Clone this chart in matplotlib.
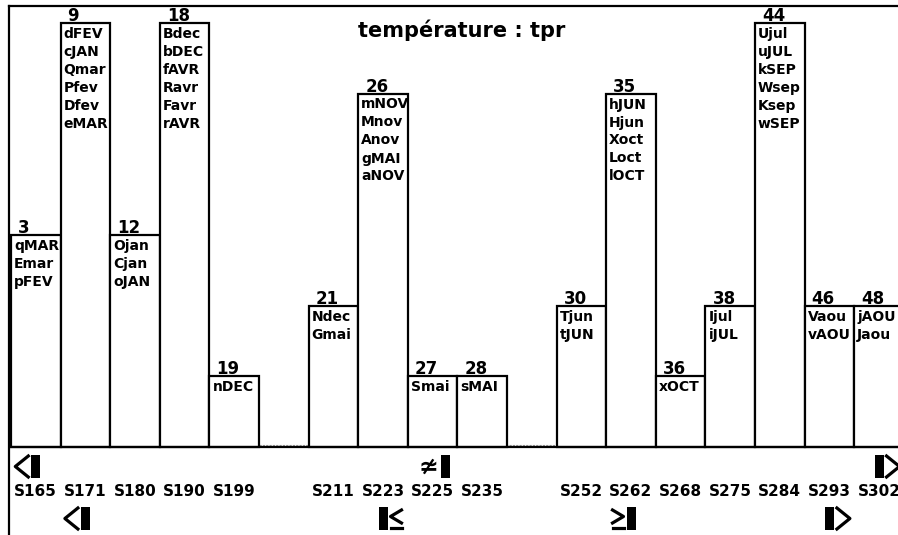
import matplotlib
matplotlib.use("Agg")
import matplotlib.pyplot as plt
from matplotlib.lines import Line2D
from matplotlib.patches import Rectangle
from matplotlib.transforms import IdentityTransform

# ---------------- data ----------------
bin_values = [3, 9, 12, 18, 19, 21, 26, 27, 28, 30, 35, 36, 38, 44, 46, 48]
bin_slots = [0, 1, 2, 3, 4, 6, 7, 8, 9, 11, 12, 13, 14, 15, 16, 17]
bin_members = [
    ["qMAR", "Emar", "pFEV"],
    ["dFEV", "cJAN", "Qmar", "Pfev", "Dfev", "eMAR"],
    ["Ojan", "Cjan", "oJAN"],
    ["Bdec", "bDEC", "fAVR", "Ravr", "Favr", "rAVR"],
    ["nDEC"],
    ["Ndec", "Gmai"],
    ["mNOV", "Mnov", "Anov", "gMAI", "aNOV"],
    ["Smai"],
    ["sMAI"],
    ["Tjun", "tJUN"],
    ["hJUN", "Hjun", "Xoct", "Loct", "lOCT"],
    ["xOCT"],
    ["Ijul", "iJUL"],
    ["Ujul", "uJUL", "kSEP", "Wsep", "Ksep", "wSEP"],
    ["Vaou", "vAOU"],
    ["jAOU", "Jaou"],
]
tick_labels = ["S165", "S171", "S180", "S190", "S199", "S211", "S223", "S225",
               "S235", "S252", "S262", "S268", "S275", "S284", "S293", "S302"]
title = "température : tpr"

# summary indicators (slot units): top row min / mean / max, bottom row quantiles
top_markers = [(0.5, "<"), (8.75, "≄"), (17.5, ">")]
bottom_markers = [(1.5, "<"), (7.5, "≤"), (12.5, "≥"), (16.5, ">")]

counts = [len(m) for m in bin_members]

# ---------------- figure ----------------
W, H = 898, 535
fig = plt.figure(figsize=(W / 100, H / 100), dpi=100)
fig.patch.set_facecolor("white")

x0_px, slot_w = 11.0, 49.6
base_px, unit_px = 447.0, 70.7
ax_left_px, ax_top_px = 9.0, 6.0
ax = fig.add_axes([ax_left_px / W, 0, (W - ax_left_px) / W, (H - ax_top_px) / H])
ax.set_xlim((ax_left_px - x0_px) / slot_w, (W - x0_px) / slot_w)
ax.set_ylim(-(H - base_px) / unit_px, (base_px - ax_top_px) / unit_px)
for s in ("bottom", "right"):
    ax.spines[s].set_visible(False)
for s in ("left", "top"):
    ax.spines[s].set_linewidth(1.6)
ax.set_xticks([])
ax.set_yticks([])

ax.bar(bin_slots, counts, width=1.0, align="edge", facecolor="white",
       edgecolor="black", linewidth=1.6, zorder=3)
ax.axhline(0, color="black", linewidth=1.6, zorder=4)
ax.axhline(2.0 / unit_px, color="#999999", linewidth=0.8, linestyle=(0, (2, 1)), zorder=2)

lab_font = dict(family="DejaVu Sans", fontweight="bold", fontsize=10)
for slot, val, cnt, members in zip(bin_slots, bin_values, counts, bin_members):
    ax.annotate(str(val), xy=(slot, cnt), xytext=(7, 2), textcoords="offset pixels",
                ha="left", va="baseline", fontsize=12, fontweight="bold", zorder=5)
    for k, m in enumerate(members):
        ax.annotate(m, xy=(slot, cnt), xytext=(3, -4 - 18 * k), textcoords="offset pixels",
                    ha="left", va="top", zorder=5, **lab_font)

label_y = -(492 - base_px) / unit_px
for slot, lab in zip(bin_slots, tick_labels):
    ax.text(slot + 0.5, label_y, lab, ha="center", va="center",
            fontsize=11, fontweight="bold")

fig.text(462 / W, 1 - 30 / H, title, ha="center", va="center",
         fontsize=15, fontweight="bold")

# ---------------- indicator glyphs ----------------
fig.canvas.draw()
idt = IdentityTransform()
lw = 2.3


def draw_marker(xpos, sym, top_px, bot_px):
    cx = ax.transData.transform((xpos, 0))[0]
    yt, yb = H - top_px, H - bot_px
    ym = (yt + yb) / 2
    bw = 9
    bx0, bx1 = cx - bw / 2, cx + bw / 2
    fig.add_artist(Rectangle((bx0, yb), bw, yt - yb, facecolor="black",
                             edgecolor="none", transform=idt))
    if sym == "<":
        fig.add_artist(Line2D([bx0 - 3, bx0 - 16, bx0 - 3], [yt - 1, ym, yb + 1],
                              color="black", lw=lw, transform=idt))
    elif sym == ">":
        fig.add_artist(Line2D([bx1 + 3, bx1 + 16, bx1 + 3], [yt - 1, ym, yb + 1],
                              color="black", lw=lw, transform=idt))
    elif sym == "≤":
        fig.add_artist(Line2D([bx1 + 14, bx1 + 3, bx1 + 14], [yt - 3, ym + 2, yb + 7],
                              color="black", lw=lw, transform=idt))
        fig.add_artist(Line2D([bx1 + 3, bx1 + 14], [yb + 2, yb + 2],
                              color="black", lw=lw, transform=idt))
    elif sym == "≥":
        fig.add_artist(Line2D([bx0 - 14, bx0 - 3, bx0 - 14], [yt - 3, ym + 2, yb + 7],
                              color="black", lw=lw, transform=idt))
        fig.add_artist(Line2D([bx0 - 14, bx0 - 3], [yb + 2, yb + 2],
                              color="black", lw=lw, transform=idt))
    else:
        fig.text(bx0 - 2, ym, sym, transform=idt, ha="right", va="center",
                 fontsize=17, fontweight="bold")


for xpos, sym in top_markers:
    draw_marker(xpos, sym, 455, 478)
for xpos, sym in bottom_markers:
    draw_marker(xpos, sym, 507, 530)

fig.savefig("out.png", dpi=100, facecolor="white")
